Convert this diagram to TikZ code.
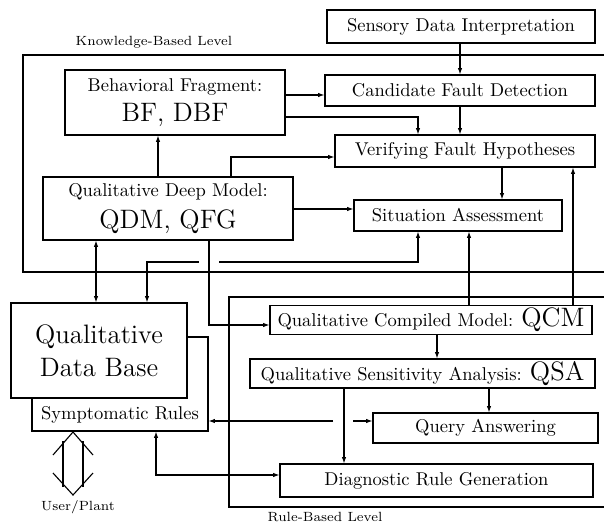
\documentclass[tikz,border=0pt]{standalone}
\usetikzlibrary{arrows.meta}
\begin{document}
\begin{tikzpicture}[x=0.54pt, y=-0.54pt,
  every path/.style={line width=0.6pt},
  box/.style={draw, fill=white, inner sep=0pt, align=center, font=\normalsize},
  sz/.style 2 args={minimum width={#1*0.54pt}, minimum height={#2*0.54pt}},
  levellabel/.style={font=\fontsize{7.2}{8}\selectfont, inner sep=0pt},
  tip/.tip={Latex[length=3.4pt, width=2.4pt]},
  arr/.style={-tip},
  rarr/.style={tip-},
  darr/.style={tip-tip}]
\useasboundingbox (0,0) rectangle (604,523);

% level frames
\draw (604,55) -- (23,55) -- (23,272) -- (604,272);
\draw (604,297) -- (229,297) -- (229,507) -- (604,507);
\node[levellabel] (kbl) at (154,42) {Knowledge-Based Level};
\node[levellabel] (rbl) at (325,517) {Rule-Based Level};

% boxes of the knowledge-based level
\node[box, sz={268}{33}] (sdi) at (461,26.5) {Sensory Data Interpretation};
\node[box, sz={270}{31}] (cfd) at (460,90.5) {Candidate Fault Detection};
\node[box, sz={220}{65}] (bf) at (175,102.5) {Behavioral Fragment:\\[4pt]{\Large BF, DBF}};
\node[box, sz={260}{32}] (vfh) at (465,151) {Verifying Fault Hypotheses};
\node[box, sz={250}{63}] (qdm) at (168,208.5) {Qualitative Deep Model:\\[4pt]{\Large QDM, QFG}};
\node[box, sz={208}{31}] (sa) at (458,215.5) {Situation Assessment};

% boxes of the rule-based level
\node[box, sz={322}{29}] (qcm) at (431,320) {Qualitative Compiled Model: {\Large QCM}};
\node[box, sz={345}{29}] (qsa) at (422.5,373.5) {Qualitative Sensitivity Analysis: {\Large QSA}};
\node[box, sz={225}{30}] (qa) at (485.5,428) {Query Answering};
\node[box, sz={313}{33}] (drg) at (436.5,480.5) {Diagnostic Rule Generation};

% data base with its symptomatic rules
\node[box, sz={176}{94}] (sr) at (120,384) {};
\node[inner sep=0pt] (srtext) at (120,415) {Symptomatic Rules};
\node[box, sz={176}{95}, font=\Large] (qdb) at (99,350.5) {Qualitative\\Data Base};

% user / plant exchange
\draw (53,455) -- (73,432) -- (93,455);
\draw (53,473) -- (73,495) -- (93,473);
\draw (63,441) -- (63,487);
\draw (83,441) -- (83,487);
\node[levellabel] (user) at (78,507) {User/Plant};

% connectors
\draw[arr] (460,0 |- sdi.south) -- (460,0 |- cfd.north);
\draw[arr] (bf.east |- 0,95) -- (cfd.west |- 0,95);
\draw[arr] (bf.east |- 0,117) -| (418,0 |- vfh.north);
\draw[arr] (460,0 |- cfd.south) -- (460,0 |- vfh.north);
\draw[arr] (231,0 |- qdm.north) |- (vfh.west |- 0,157);
\draw[arr] (qdm.east |- 0,209) -- (sa.west |- 0,209);
\draw[arr] (502,0 |- vfh.south) -- (502,0 |- sa.north);
\draw[arr] (573,0 |- qcm.north) -- (573,0 |- vfh.south);
\draw[arr] (469,0 |- qcm.north) -- (469,0 |- sa.south);
\draw[arr] (158,0 |- qdm.north) -- (158,0 |- bf.south);
\draw[darr] (96,0 |- qdm.south) -- (96,0 |- qdb.north);

\coordinate (hopa) at (199,262);
\coordinate (hopb) at (219,262);
\draw[rarr] (147,0 |- qdb.north) |- (hopa);
\draw[arr] (hopb) -| (418,0 |- sa.south);

\draw[arr] (209,0 |- qdm.south) |- (qcm.west |- 0,325);
\draw[arr] (437,0 |- qcm.south) -- (437,0 |- qsa.north);
\draw[arr] (489,0 |- qsa.south) -- (489,0 |- qa.north);
\draw[arr] (344,0 |- qsa.south) -- (344,0 |- drg.north);

\coordinate (hopc) at (333,421);
\coordinate (hopd) at (353,421);
\draw[arr] (hopc) -- (sr.east |- 0,421);
\draw[arr] (hopd) -- (qa.west |- 0,421);
\draw[darr] (156,0 |- sr.south) |- (drg.west |- 0,475);
\end{tikzpicture}
\end{document}
